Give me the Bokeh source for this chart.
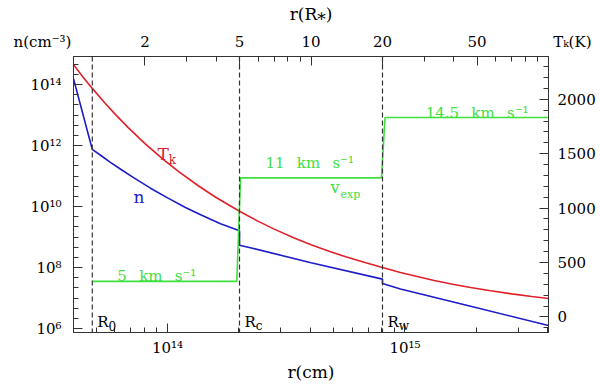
from bokeh.plotting import figure
from bokeh.models import (Range1d, LogScale, LinearScale, LogAxis, LinearAxis, FixedTicker,
                          CustomJSTickFormatter, Span, Label)
from bokeh.embed import file_html
from bokeh.resources import INLINE

RSTAR_CM = 4.02e13  # cm per stellar radius

# gas density n (cm^-3) versus r (R*)
r_n = [1.0, 1.2, 1.3, 1.43, 1.58, 1.79, 2.11, 2.49, 2.96, 3.43, 4.16, 5.0,
       5.0, 5.67, 10.0, 20.0, 20.0, 23.8, 47.0, 100.0]
n_vals = [1.55e14, 7.46e11, 4.82e11, 2.83e11, 1.68e11, 8.9e10, 4.01e10, 1.93e10, 9.35e9,
          5.41e9, 2.76e9, 1.61e9,
          5.4e8, 4.3e8, 1.45e8, 4.2e7, 3.0e7, 2.0e7, 5.4e6, 1.26e6]

# kinetic temperature T_k (K) versus r (R*)
r_T = [1.0, 1.1, 1.2, 1.35, 1.5, 1.7, 2.0, 2.4, 2.8, 3.4, 4.0, 5.0, 6.0, 7.0, 8.5, 10.0,
       12.0, 14.0, 17.0, 20.0, 23.8, 28.0, 33.0, 40.0, 47.0, 57.0, 70.0, 85.0, 100.0]
T_vals = [2318, 2201, 2100, 1970, 1861, 1740, 1593, 1444, 1328, 1196, 1095, 971, 878, 807,
          726, 664, 601, 553, 497, 455, 409, 371, 335, 298, 270, 240, 212, 188, 170]

# expansion velocity (km/s) versus r (R*)
r_v = [1.2, 4.87, 5.05, 19.8, 20.5, 100.0]
v_vals = [5, 5, 11, 11, 14.5, 14.5]

# characteristic radii (R*)
radii = [1.2, 5.0, 20.0]
radii_sub = ["0", "c", "w"]

# top axis: the two end ticks carry the corner titles of the y axes
top_ticks = [1, 2, 5, 10, 20, 50, 100]
top_minor = [3, 4, 6, 7, 8, 9, 30, 40, 60, 70, 80, 90]
left_title = "n(cm\u207b\u00b3)"
right_title = "T\u2096(K)"
bottom_ticks = [1e14, 1e15]
bottom_minor = [5e13, 6e13, 7e13, 8e13, 9e13, 2e14, 3e14, 4e14, 5e14, 6e14, 7e14,
                8e14, 9e14, 2e15, 3e15, 4e15]
left_ticks = [1e6, 1e8, 1e10, 1e12, 1e14]
left_minor = [10 ** (k / 3) for k in range(17, 45)]
right_ticks = [0, 500, 1000, 1500, 2000]
right_minor = list(range(-100, 2400, 100))

FONT = "DejaVu Serif"
BLUE = "#1c1cc8"
RED = "#e0202a"
GREEN = "#3ee03e"
AX = "#333333"
GAP = " \u2002"

p = figure(width=600, height=384, x_axis_type="log", y_axis_type="log",
           x_axis_location=None, y_axis_location=None,
           x_range=Range1d(1, 100), y_range=Range1d(10 ** 5.873, 10 ** 14.92),
           output_backend="svg", toolbar_location=None,
           min_border_left=73, min_border_right=52, min_border_top=52, min_border_bottom=48)
p.extra_x_ranges = {"cm": Range1d(RSTAR_CM * 1, RSTAR_CM * 100)}
p.extra_x_scales = {"cm": LogScale()}
p.extra_y_ranges = {"T": Range1d(-143, 2393), "v": Range1d(2.04, 18.03)}
p.extra_y_scales = {"T": LinearScale(), "v": LinearScale()}
p.outline_line_color = AX
p.background_fill_color = "white"
p.border_fill_color = "white"
p.grid.visible = False

pow_fmt = CustomJSTickFormatter(code="""
const e = Math.round(Math.log10(tick));
const sup = {'0':'\u2070','1':'\u00b9','2':'\u00b2','3':'\u00b3','4':'\u2074','5':'\u2075',
             '6':'\u2076','7':'\u2077','8':'\u2078','9':'\u2079','-':'\u207b'};
return '10' + String(e).split('').map(c => sup[c]).join('');
""")
int_fmt = CustomJSTickFormatter(code="return String(Math.round(tick));")
top_fmt = CustomJSTickFormatter(args=dict(lt=left_title, rt=right_title), code="""
const nb = '\\u00a0';
if (Math.abs(tick - 1) < 1e-9) return lt + nb.repeat(13);
if (Math.abs(tick - 100) < 1e-9) return nb.repeat(10) + rt;
return String(Math.round(tick));
""")


def style(ax, size="15px"):
    ax.major_tick_in = 9
    ax.major_tick_out = 0
    ax.minor_tick_in = 5
    ax.minor_tick_out = 0
    ax.axis_line_color = AX
    ax.major_tick_line_color = AX
    ax.minor_tick_line_color = AX
    ax.major_label_text_font = FONT
    ax.major_label_text_font_size = size
    ax.major_label_text_color = "black"
    ax.axis_label_text_font = FONT
    ax.axis_label_text_font_size = "17px"
    ax.axis_label_text_font_style = "normal"
    ax.axis_label_text_color = "black"


ax_top = LogAxis(ticker=FixedTicker(ticks=top_ticks, minor_ticks=top_minor),
                 formatter=top_fmt, axis_label="r(R\u204e)")
style(ax_top)
ax_top.major_label_standoff = 6
ax_top.axis_label_standoff = 6
p.add_layout(ax_top, "above")

ax_bot = LogAxis(x_range_name="cm", ticker=FixedTicker(ticks=bottom_ticks, minor_ticks=bottom_minor),
                 formatter=pow_fmt, axis_label="r(cm)")
style(ax_bot)
ax_bot.major_label_standoff = 6
ax_bot.axis_label_standoff = 2
p.add_layout(ax_bot, "below")

ax_left = LogAxis(ticker=FixedTicker(ticks=left_ticks, minor_ticks=left_minor), formatter=pow_fmt)
style(ax_left)
ax_left.major_label_standoff = 12
p.add_layout(ax_left, "left")

ax_right = LinearAxis(y_range_name="T", ticker=FixedTicker(ticks=right_ticks, minor_ticks=right_minor),
                      formatter=int_fmt)
style(ax_right)
ax_right.major_label_standoff = 9
p.add_layout(ax_right, "right")

for rr in radii:
    p.add_layout(Span(location=rr, dimension="height", line_color=AX,
                      line_dash="5 3", line_width=1.2))

p.line(r_n, n_vals, line_color=BLUE, line_width=1.6)
p.line(r_T, T_vals, y_range_name="T", line_color=RED, line_width=1.6)
p.line(r_v, v_vals, y_range_name="v", line_color=GREEN, line_width=1.6)


def lab(text, x, y, color="black", size="16px", align="left"):
    p.add_layout(Label(x=x, y=y, y_range_name="T", text=text, text_font=FONT,
                       text_font_size=size, text_color=color, text_align=align,
                       text_baseline="alphabetic"))


# curve labels
lab("T", 2.26, 1500, RED, "17px")
lab("k", 2.52, 1440, RED, "12px")
lab("n", 1.79, 1098, BLUE, "17px")
lab("5" + GAP + "km" + GAP + "s\u207b\u00b9", 1.53, 375, GREEN, "15px")
lab("11" + GAP + "km" + GAP + "s\u207b\u00b9", 6.43, 1411, GREEN, "15px")
lab("v", 12.08, 1188, GREEN, "16px")
lab("exp", 13.3, 1128, GREEN, "11px")
lab("14.5" + GAP + "km" + GAP + "s\u207b\u00b9", 30.4, 1875, GREEN, "15px")

# radius labels
for rr, sub in zip(radii, radii_sub):
    lab("R", rr * 1.05, -45, "black", "15px")
    lab(sub, rr * 1.17, -85, "black", "12px")

open("out.html", "w").write(file_html(p, INLINE))
